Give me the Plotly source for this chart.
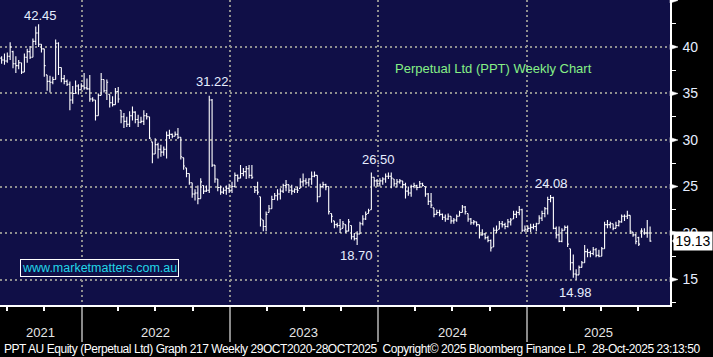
import pandas as pd
import plotly.graph_objects as go

# ---------------- data (weekly bars) ----------------
start_date = "2021-06-18"

open_ = [38.8,38.6,38.5,39.0,39.5,38.2,38.0,38.3,37.3,38.9,39.5,38.9,40.6,41.5,40.3,39.8,37.0,36.3,36.2,36.5,
         40.4,37.8,36.6,36.3,36.0,34.3,35.0,35.8,35.4,35.8,35.6,35.5,34.4,34.3,32.6,34.8,36.5,35.3,34.9,34.0,
         33.8,35.2,33.2,32.5,32.0,31.7,32.6,33.0,32.2,31.9,32.0,32.6,32.5,29.8,28.5,29.5,29.0,28.7,29.0,30.5,
         30.6,30.4,30.6,30.3,28.1,27.0,26.4,25.4,24.2,24.3,23.7,25.1,24.5,24.6,34.3,27.3,25.8,24.9,24.4,24.6,
         24.8,24.6,25.0,26.2,25.9,26.4,26.6,26.9,26.2,25.0,24.6,23.9,21.4,20.7,22.2,22.6,23.6,24.0,24.2,24.5,
         25.1,25.2,24.6,24.5,24.7,24.8,25.5,25.6,25.4,25.8,26.1,26.2,23.9,25.0,25.2,25.0,22.1,21.3,20.9,20.8,
         20.5,20.9,20.2,20.8,19.6,19.4,19.9,21.0,21.5,22.1,22.5,26.0,25.6,25.3,25.6,25.8,26.1,26.1,25.8,25.3,
         25.5,25.6,25.2,24.5,24.3,25.0,25.1,24.9,25.3,25.0,24.2,23.4,22.7,22.0,22.2,22.0,21.7,21.5,21.8,21.3,
         21.4,21.8,22.2,22.8,22.1,21.5,21.1,21.2,20.9,19.8,19.9,19.5,19.2,18.5,20.3,20.4,21.0,20.9,20.7,21.2,
         21.5,22.0,22.2,22.5,20.3,20.4,20.5,20.6,20.7,21.0,21.6,22.1,22.6,23.6,23.8,20.5,19.8,19.1,20.3,20.6,
         18.3,16.8,15.6,15.5,16.3,16.8,18.0,17.9,17.8,18.2,17.6,17.5,18.3,20.9,20.9,21.0,20.5,20.8,21.2,21.8,
         21.8,21.9,20.1,19.8,19.5,20.2,20.0,20.0,20.0]

high = [39.0,39.3,39.4,40.5,39.6,39.0,38.6,38.3,39.3,39.8,40.1,40.9,42.2,42.45,40.3,39.8,37.0,36.9,36.8,40.8,
        40.5,37.8,37.0,36.5,36.3,35.8,36.4,36.0,36.1,37.2,36.6,37.0,34.6,34.3,35.0,37.2,36.5,36.5,34.9,34.7,
        35.6,35.7,33.2,32.9,32.5,33.1,33.6,33.1,32.7,32.5,33.2,32.9,32.5,29.8,30.2,29.7,29.5,29.3,30.9,31.1,
        30.7,30.9,31.3,30.3,28.1,27.0,26.4,25.4,24.7,25.1,25.9,25.1,25.1,34.75,34.4,27.3,25.8,25.1,24.9,25.1,
        25.3,25.5,26.5,26.3,27.3,27.0,27.2,27.3,27.3,25.0,25.5,23.9,21.4,22.3,23.0,24.0,24.3,24.7,24.8,25.3,
        25.7,25.2,25.2,24.8,25.0,25.9,26.4,25.9,25.9,26.6,26.6,26.2,25.3,25.5,25.3,25.0,22.1,21.3,21.1,21.5,
        21.3,20.9,21.5,20.8,20.0,20.2,21.2,21.9,22.3,22.6,26.5,26.0,25.8,25.9,26.0,26.4,26.5,26.5,25.8,25.8,
        25.8,25.6,25.4,25.0,25.2,25.4,25.2,25.6,25.4,25.0,24.3,24.3,22.7,22.5,22.5,22.1,22.0,22.1,21.8,21.6,
        22.0,22.4,23.0,22.9,22.1,21.6,21.4,21.2,20.9,20.4,20.0,19.7,19.3,20.6,20.8,21.3,21.3,21.1,21.5,21.6,
        22.4,22.4,22.9,22.6,20.8,20.8,21.0,21.0,21.1,21.9,22.4,22.8,23.9,24.08,23.9,20.7,20.7,20.5,20.8,20.8,
        18.3,17.7,16.1,16.5,17.0,18.7,18.3,18.1,18.5,18.4,18.2,18.5,21.2,21.4,21.2,21.0,21.2,21.4,22.0,22.0,
        22.4,21.9,20.1,19.9,19.6,20.5,20.5,21.4,20.7]

low = [38.2,38.1,38.3,38.6,37.7,37.2,37.6,37.1,37.3,38.3,38.7,38.9,40.2,40.0,39.4,36.8,35.3,35.1,36.0,36.5,
       37.0,36.2,36.0,35.8,33.2,33.9,35.0,34.9,35.4,35.4,35.4,34.1,34.1,32.1,32.6,34.8,35.1,34.3,33.5,33.6,
       33.8,34.0,31.8,31.3,31.4,31.4,32.1,31.8,31.4,31.8,31.6,32.2,30.1,27.5,28.5,28.0,28.2,28.3,28.0,30.1,
       30.2,30.4,30.1,27.9,26.8,26.0,25.2,23.8,23.5,23.1,23.7,24.2,24.4,24.3,27.1,25.4,24.5,24.1,24.2,24.1,
       24.3,24.3,24.9,25.5,25.9,26.1,25.8,25.9,25.8,24.3,24.1,20.7,20.2,20.2,22.2,22.6,23.6,23.5,23.6,24.3,
       24.5,24.3,24.1,24.3,24.3,24.8,25.0,25.2,25.0,25.2,26.0,23.3,23.9,24.8,24.6,22.0,21.1,20.5,20.6,20.0,
       20.5,20.0,20.2,19.3,19.2,18.7,19.9,20.8,21.4,22.1,22.5,25.0,25.0,25.0,25.2,25.4,25.8,24.8,25.0,24.9,
       25.3,24.8,23.7,24.0,23.9,24.8,24.6,24.9,25.0,23.9,23.0,22.7,21.7,22.0,21.8,21.4,21.2,21.4,21.0,21.0,
       21.2,21.8,22.2,22.0,21.2,20.9,20.9,20.7,19.4,19.7,19.3,19.0,18.0,18.5,20.0,20.4,20.6,20.4,20.6,20.8,
       21.5,21.6,21.9,20.1,20.1,20.1,20.1,20.4,20.2,21.0,21.3,21.7,22.0,23.3,20.4,19.4,19.0,19.0,20.3,18.5,
       16.0,15.2,14.98,15.5,16.3,16.8,17.4,17.4,17.6,17.4,17.4,17.5,18.3,20.5,20.5,20.3,20.5,20.7,21.1,21.3,
       21.5,19.9,19.6,18.8,18.6,19.5,19.8,19.5,19.05]

close = [38.6,38.5,39.0,40.0,38.2,38.0,38.3,37.3,38.9,39.5,38.9,40.6,41.5,40.3,39.8,38.0,36.3,36.2,36.5,40.4,
         37.8,36.6,36.3,36.0,34.3,35.0,35.8,35.4,35.8,35.6,35.5,34.4,34.3,32.6,34.8,36.5,35.3,36.2,34.0,33.8,
         35.2,34.4,32.5,32.0,31.7,32.6,33.0,32.2,31.9,32.0,32.6,32.5,30.2,28.5,29.5,29.0,28.7,29.0,30.5,30.6,
         30.4,30.6,30.3,28.2,27.2,26.4,25.4,24.2,24.3,23.7,25.5,24.5,24.6,34.3,27.3,25.8,24.9,24.4,24.6,24.8,
         24.6,25.0,26.2,25.9,26.4,26.6,26.9,26.2,26.0,24.6,24.4,21.5,20.7,22.0,22.6,23.6,24.0,24.2,24.5,25.1,
         25.2,24.6,24.5,24.7,24.6,25.5,25.6,25.4,25.8,26.1,26.2,23.9,25.0,25.2,25.0,22.3,21.8,20.9,20.8,20.4,
         21.0,20.2,21.2,19.6,19.4,19.9,21.0,21.5,22.0,22.4,26.0,25.6,25.3,25.6,25.8,26.1,26.1,25.9,25.3,25.5,
         25.6,25.2,24.5,24.3,25.0,25.1,24.9,25.3,25.1,24.2,23.4,23.0,22.0,22.2,22.0,21.7,21.5,21.8,21.3,21.4,
         21.8,22.2,22.8,22.3,21.5,21.1,21.2,20.9,19.8,19.9,19.5,19.2,18.4,20.3,20.3,21.0,20.9,20.7,21.2,21.4,
         22.0,22.2,22.5,20.3,20.4,20.5,20.6,20.7,21.0,21.6,22.1,22.6,23.6,23.8,20.5,19.8,19.1,20.3,20.6,18.8,
         16.8,15.6,15.5,16.3,16.8,18.0,17.9,17.8,18.2,17.6,17.5,18.3,20.9,20.9,21.0,20.5,20.8,21.2,21.8,21.8,
         21.9,20.2,19.8,19.1,18.8,20.2,20.0,20.0,19.13]

# marked values: text, bar index, which series it marks
point_labels = ["42.45", "31.22", "26.50", "18.70", "24.08", "14.98"]
point_index = [13, 73, 130, 125, 193, 202]
point_series = ["high", "high", "high", "low", "high", "low"]

year_labels = ["2021", "2022", "2023", "2024", "2025"]
year_label_dates = ["2021-09-22", "2022-07-02", "2023-07-02", "2024-07-01", "2025-06-26"]
year_starts = ["2022-01-01", "2023-01-01", "2024-01-01", "2025-01-01"]

y_ticks = [15, 20, 25, 30, 35, 40, 45]
y_ticktext = ["15", "20", "25", "30", "35", "40", ""]

last_price = "19.13"
title_text = "Perpetual Ltd (PPT) Weekly Chart"
site_text = "www.marketmatters.com.au"
footer_text = ("PPT AU Equity (Perpetual Ltd) Graph 217 Weekly 29OCT2020-28OCT2025\u00a0\u00a0"
               "Copyright\u00a9 2025 Bloomberg Finance L.P.\u00a0\u00a028-Oct-2025 23:13:50")

# ---------------- figure ----------------
dates = pd.date_range(start_date, periods=len(close), freq="7D")
series = {"high": high, "low": low}

NAVY = "#100f47"
GRID = "#8f8f8f"
LABEL = "#e6eeff"
FONT = "Liberation Sans, Arial, sans-serif"

YMIN, YMAX = 12.26, 45.05
PLOT_W, PLOT_H = 670.0, 305.0

fig = go.Figure()
fig.add_trace(go.Ohlc(
    x=dates, open=open_, high=high, low=low, close=close,
    increasing=dict(line=dict(color="white", width=1.1)),
    decreasing=dict(line=dict(color="white", width=1.1)),
    tickwidth=0.45, hoverinfo="skip", showlegend=False,
))

annotations = []
shifts = [(2, 9), (3, 14), (7, 13), (-1, -10), (1, 12), (-1, -13)]
for txt, idx, s, (dx, dy) in zip(point_labels, point_index, point_series, shifts):
    annotations.append(dict(
        x=dates[idx], y=series[s][idx], xref="x", yref="y", text=txt, showarrow=False,
        xshift=dx, yshift=dy, font=dict(family=FONT, size=13, color=LABEL)))

for txt, d in zip(year_labels, year_label_dates):
    annotations.append(dict(x=d, y=-27 / PLOT_H, xref="x", yref="paper", text=txt,
                            showarrow=False, xanchor="center", yanchor="middle",
                            font=dict(family=FONT, size=13, color="#e6e6e6")))

annotations.append(dict(x=494 / PLOT_W, y=(305 - 68) / PLOT_H, xref="paper", yref="paper",
                        xanchor="center", yanchor="middle",
                        text=title_text, showarrow=False,
                        font=dict(family=FONT, size=13, color="#86f086")))
annotations.append(dict(x=99 / PLOT_W, y=(305 - 268) / PLOT_H, xref="paper", yref="paper",
                        xanchor="center", yanchor="middle",
                        text=site_text, showarrow=False, bordercolor="white", borderwidth=1,
                        borderpad=1, bgcolor=NAVY,
                        font=dict(family=FONT, size=12.5, color="#22d6e8")))
annotations.append(dict(x=2 / PLOT_W, y=-44 / PLOT_H, xref="paper", yref="paper", xanchor="left",
                        yanchor="middle",
                        text="<span style='letter-spacing:-0.45px'>" + footer_text + "</span>",
                        showarrow=False,
                        font=dict(family=FONT, size=12, color="white")))
annotations.append(dict(x=693 / PLOT_W, y=float(close[-1]), xref="paper", yref="y", text=last_price,
                        showarrow=False, bgcolor="white", width=38, height=18, borderpad=0,
                        xanchor="center", yanchor="middle",
                        font=dict(family=FONT, size=14, color="black")))


def ypaper(v):
    return (v - YMIN) / (YMAX - YMIN)


shapes = []
dh = 2.6 / PLOT_H
for v in y_ticks:
    yp = ypaper(v)
    shapes.append(dict(type="path", xref="paper", yref="paper",
                       path=f"M 1.0,{yp + dh} L {678 / PLOT_W},{yp} L 1.0,{yp - dh} Z",
                       fillcolor="white", line=dict(color="white", width=0.5)))
yp = ypaper(float(close[-1]))
th = 9 / PLOT_H
shapes.append(dict(type="path", xref="paper", yref="paper",
                   path=(f"M {672 / PLOT_W},{yp} L {680 / PLOT_W},{yp + th} "
                         f"L {680 / PLOT_W},{yp - th} Z"),
                   fillcolor="white", line=dict(color="white", width=0)))

fig.update_layout(
    width=713, height=357,
    margin=dict(l=0, r=43, t=0, b=52, pad=0),
    paper_bgcolor="black", plot_bgcolor=NAVY,
    showlegend=False,
    annotations=annotations, shapes=shapes,
    xaxis=dict(
        type="date", range=["2021-06-14", "2025-12-19"],
        rangeslider=dict(visible=False),
        tickmode="array", tickvals=year_starts, ticktext=["", "", "", ""],
        showgrid=True, gridcolor=GRID, griddash="2px,3px", gridwidth=2,
        ticks="outside", ticklen=35, tickcolor="#8a8a8a", tickwidth=1.5,
        showline=True, linecolor="white", linewidth=2, zeroline=False,
        minor=dict(dtick="M3", tick0="2021-01-01", ticks="outside", ticklen=4,
                   tickcolor="white", tickwidth=1.5, showgrid=False),
        fixedrange=True, automargin=False,
    ),
    yaxis=dict(
        side="right", range=[YMIN, YMAX],
        tickmode="array", tickvals=y_ticks, ticktext=y_ticktext,
        ticks="outside", ticklen=8, tickcolor="rgba(0,0,0,0)",
        tickfont=dict(family=FONT, size=14, color=LABEL),
        showgrid=True, gridcolor=GRID, griddash="2px,3px", gridwidth=2,
        showline=True, linecolor="white", linewidth=1.5, zeroline=False,
        minor=dict(dtick=2.5, tick0=0, ticks="outside", ticklen=4, tickcolor="white",
                   tickwidth=1, showgrid=False),
        fixedrange=True, automargin=False,
    ),
)

fig.write_html("out.html", config={"displayModeBar": False},
               post_script="document.body.style.margin='0px';document.body.style.overflow='hidden';")
